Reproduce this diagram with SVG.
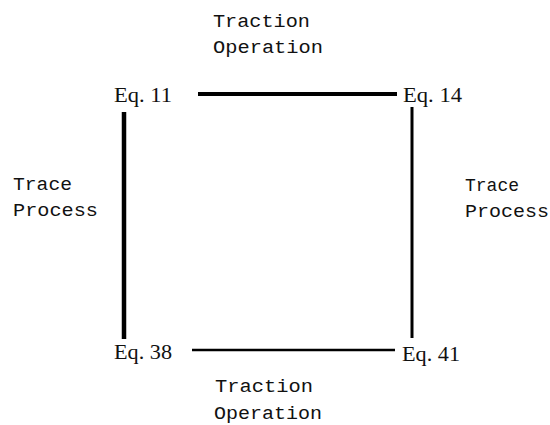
<svg xmlns="http://www.w3.org/2000/svg" width="550" height="425" viewBox="0 0 550 425">
<style>
.lbl{font-family:"Liberation Mono","Courier New",monospace;font-size:18px;fill:#111}
.eq{font-family:"Liberation Serif","Times New Roman",serif;font-size:22px;fill:#111}
.ln{stroke:#000;fill:none;stroke-linecap:butt}
</style>
<rect width="550" height="425" fill="#fff"/>
<g id="connectors">
<line class="ln" x1="198" y1="94" x2="397" y2="94" stroke-width="4"/>
<line class="ln" x1="124" y1="112" x2="124" y2="339" stroke-width="4.5"/>
<line class="ln" x1="412" y1="107" x2="412" y2="338" stroke-width="3"/>
<line class="ln" x1="192" y1="350" x2="395" y2="350" stroke-width="2.5"/>
</g>
<g id="eq11"><text class="eq" x="114" y="102" textLength="58" lengthAdjust="spacingAndGlyphs">Eq. 11</text></g>
<g id="eq14"><text class="eq" x="403" y="102" textLength="59" lengthAdjust="spacingAndGlyphs">Eq. 14</text></g>
<g id="eq38"><text class="eq" x="114" y="359" textLength="58" lengthAdjust="spacingAndGlyphs">Eq. 38</text></g>
<g id="eq41"><text class="eq" x="402" y="361" textLength="58" lengthAdjust="spacingAndGlyphs">Eq. 41</text></g>
<g id="labels">
<text class="lbl" x="213" y="27" textLength="97" lengthAdjust="spacingAndGlyphs">Traction</text>
<text class="lbl" x="213" y="53" textLength="110" lengthAdjust="spacingAndGlyphs">Operation</text>
<text class="lbl" x="215" y="392" textLength="98" lengthAdjust="spacingAndGlyphs">Traction</text>
<text class="lbl" x="214" y="419" textLength="108" lengthAdjust="spacingAndGlyphs">Operation</text>
<text class="lbl" x="13" y="190" textLength="59" lengthAdjust="spacingAndGlyphs">Trace</text>
<text class="lbl" x="13" y="216" textLength="85" lengthAdjust="spacingAndGlyphs">Process</text>
<text class="lbl" x="465" y="191" textLength="54" lengthAdjust="spacingAndGlyphs">Trace</text>
<text class="lbl" x="465" y="217" textLength="84" lengthAdjust="spacingAndGlyphs">Process</text>
</g>
</svg>
